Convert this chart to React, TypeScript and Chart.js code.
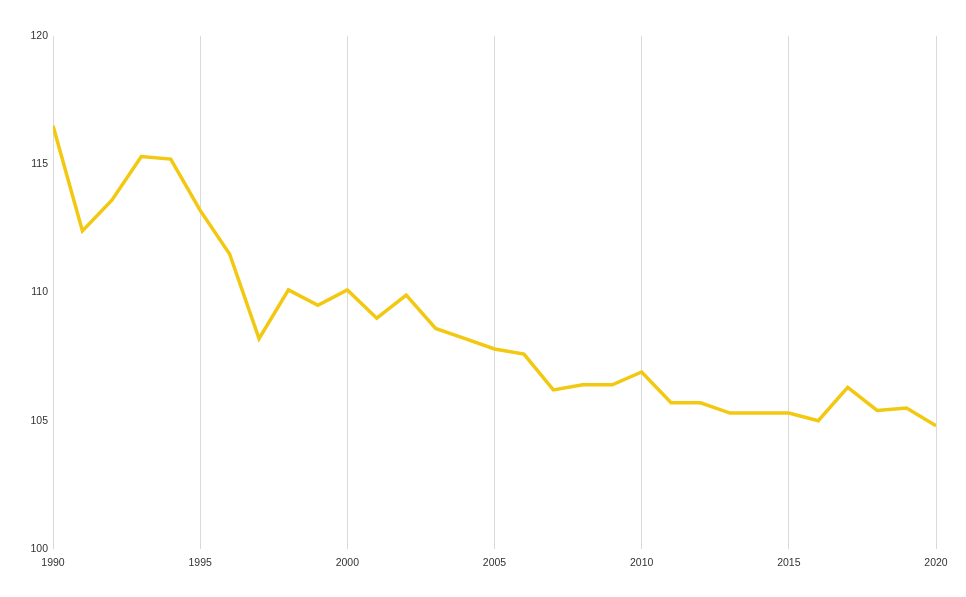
import React, { useEffect, useRef } from "react";
import { Chart, registerables } from "chart.js";

Chart.register(...registerables);

const years: number[] = [
  1990, 1991, 1992, 1993, 1994, 1995, 1996, 1997, 1998, 1999, 2000, 2001, 2002, 2003, 2004, 2005,
  2006, 2007, 2008, 2009, 2010, 2011, 2012, 2013, 2014, 2015, 2016, 2017, 2018, 2019, 2020,
];
const values: number[] = [
  116.5, 112.4, 113.6, 115.3, 115.2, 113.2, 111.5, 108.2, 110.1, 109.5, 110.1, 109.0, 109.9, 108.6,
  108.2, 107.8, 107.6, 106.2, 106.4, 106.4, 106.9, 105.7, 105.7, 105.3, 105.3, 105.3, 105.0, 106.3,
  105.4, 105.5, 104.8,
];
const yTicks: number[] = [100, 105, 110, 115, 120];
const xTicks: number[] = [1990, 1995, 2000, 2005, 2010, 2015, 2020];

export default function App() {
  const ref = useRef<HTMLCanvasElement | null>(null);
  useEffect(() => {
    if (!ref.current) return;
    const chart = new Chart(ref.current, {
      type: "line",
      data: {
        datasets: [
          {
            data: years.map((y, i) => ({ x: y, y: values[i] })),
            borderColor: "#f2c811",
            borderWidth: 3.5,
            pointRadius: 0,
            tension: 0,
            fill: false,
          },
        ],
      },
      options: {
        animation: false,
        responsive: false,
        maintainAspectRatio: false,
        layout: { padding: { left: 0, top: 36, right: 30, bottom: 28 } },
        plugins: { legend: { display: false }, tooltip: { enabled: false } },
        scales: {
          x: {
            type: "linear",
            min: 1990,
            max: 2020,
            afterBuildTicks: (s: any) => {
              s.ticks = xTicks.map((v) => ({ value: v }));
            },
            afterFit: (s: any) => {
              s.height = 20;
            },
            grid: { display: true, color: "#d9d9d9", drawTicks: false, lineWidth: 1 },
            border: { display: false },
            ticks: {
              padding: 8,
              color: "#333333",
              font: { family: "Liberation Sans, Arial, sans-serif", size: 10.5 },
              callback: (v: any) => String(v),
            },
          },
          y: {
            min: 100,
            max: 120,
            afterBuildTicks: (s: any) => {
              s.ticks = yTicks.map((v) => ({ value: v }));
            },
            afterFit: (s: any) => {
              s.width = 53;
            },
            grid: { display: false, drawTicks: false },
            border: { display: false },
            ticks: {
              padding: 5,
              color: "#333333",
              font: { family: "Liberation Sans, Arial, sans-serif", size: 10.5 },
            },
          },
        },
      },
    });
    return () => chart.destroy();
  }, []);
  return (
    <div style={{ position: "fixed", left: 0, top: 0, width: 966, height: 597, background: "#fff" }}>
      <canvas ref={ref} width={966} height={597} style={{ width: 966, height: 597 }} />
    </div>
  );
}
